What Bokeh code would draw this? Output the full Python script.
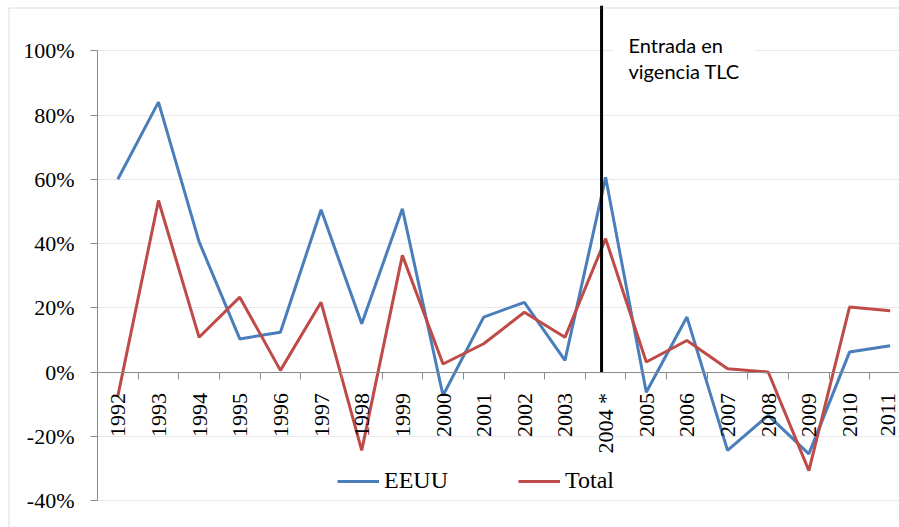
import math
from bokeh.plotting import figure
from bokeh.models import (Range1d, FixedTicker, PrintfTickFormatter, LinearAxis,
                          Legend, LegendItem, Label, PolyAnnotation, BoxAnnotation)
from bokeh.embed import file_html
from bokeh.resources import INLINE

# ---- data ----
years = ["1992", "1993", "1994", "1995", "1996", "1997", "1998", "1999", "2000",
         "2001", "2002", "2003", "2004 *", "2005", "2006", "2007", "2008", "2009",
         "2010", "2011"]
eeuu = [60, 84, 40.5, 10.3, 12.4, 50.5, 15.0, 50.8, -7.3, 17.1, 21.7, 3.6, 60.6,
        -6.3, 17.1, -24.4, -13.5, -25.5, 6.2, 8.2]
total = [-7.5, 53.4, 10.8, 23.3, 0.5, 21.7, -24.4, 36.3, 2.5, 8.8, 18.6, 10.8, 41.5,
         3.1, 9.8, 1.0, 0.0, -30.7, 20.2, 19.1]
y_ticks = [-40, -20, 0, 20, 40, 60, 80, 100]
tlc_year = "2004 *"
tlc_text = "Entrada  en\nvigencia TLC"

# ---- positions ----
xc = [i + 0.5 for i in range(len(years))]
boundaries = list(range(len(years) + 1))

SERIF = "Liberation Serif"
BLUE = "#4a7ebb"
RED = "#be4b48"
AXIS = "#8a8a8a"
GRID = "#e8e8e8"

PX_X = 40.65            # pixels per category
PX_Y = 3.2125           # pixels per percentage point
FRAME_L = 7             # frame left edge (canvas px)
AXIS_X = 97             # plot-area left edge (canvas px)
AXIS_BOTTOM = 500       # plot-area bottom (canvas px)
FRAME_TOP = 5
H = 527
Y_START = -40 - (H - AXIS_BOTTOM) / PX_Y
Y_TOP = -40 + (AXIS_BOTTOM - FRAME_TOP) / PX_Y
X_START = -(AXIS_X - FRAME_L) / PX_X
X_END = (899 - AXIS_X) / PX_X
DY = H - AXIS_BOTTOM    # offset of plot-area bottom above frame bottom

p = figure(width=899, height=H, output_backend="svg", toolbar_location=None,
           x_range=Range1d(X_START, X_END), y_range=Range1d(Y_START, Y_TOP),
           min_border_left=FRAME_L, min_border_right=0, min_border_top=FRAME_TOP,
           min_border_bottom=0, x_axis_location=None, y_axis_location=None)
p.outline_line_color = None
p.background_fill_color = "white"
p.border_fill_color = "white"

# y axis at the plot-area edge
yax = LinearAxis(ticker=FixedTicker(ticks=y_ticks, minor_ticks=[]),
                 formatter=PrintfTickFormatter(format="%d%%"),
                 bounds=(-40, 100), fixed_location=0)
yax.axis_line_color = AXIS
yax.major_tick_line_color = AXIS
yax.major_tick_out = 7
yax.major_tick_in = 0
yax.minor_tick_out = 0
yax.major_label_standoff = 16
yax.major_label_text_font = SERIF
yax.major_label_text_font_size = "22px"
yax.major_label_text_color = "black"
p.add_layout(yax, "left")

# x axis, crossing at 0
xax = LinearAxis(ticker=FixedTicker(ticks=xc, minor_ticks=boundaries),
                 major_label_overrides={x: y for x, y in zip(xc, years)},
                 fixed_location=0, bounds=(0, X_END))
xax.axis_line_color = AXIS
xax.major_tick_out = 0
xax.major_tick_in = 0
xax.minor_tick_out = 7
xax.minor_tick_in = 0
xax.minor_tick_line_color = AXIS
xax.major_label_orientation = math.pi / 2
xax.major_label_standoff = 14
xax.major_label_text_font = SERIF
xax.major_label_text_font_size = "22px"
xax.major_label_text_color = "black"
p.add_layout(xax, "below")

p.ygrid.ticker = FixedTicker(ticks=y_ticks)
p.ygrid.grid_line_color = GRID
p.xgrid.visible = False

# hide gridlines left of the plot area
p.add_layout(BoxAnnotation(right=0, level="underlay", fill_color="white",
                           fill_alpha=1, line_color=None))

r1 = p.line(xc, eeuu, line_color=BLUE, line_width=3)
r2 = p.line(xc, total, line_color=RED, line_width=3)

# TLC vertical marker
xi = years.index(tlc_year) + 0.4
p.segment(x0=[xi], y0=[0], x1=[xi], y1=[Y_TOP], line_color="black", line_width=3)

lab = Label(x=613 - FRAME_L, y=483 + DY, x_units="screen", y_units="screen",
            text=tlc_text, text_font="Lato", text_font_size="20px",
            text_color="black", text_align="left", text_baseline="top",
            text_line_height=1.12, background_fill_color="white", padding=15)
p.add_layout(lab)

# chart-area border (only left and top edges fall inside the picture)
border = PolyAnnotation(xs=[1.5, 1.5, 1200, 1200],
                        ys=[-200, H - 7.5, H - 7.5, -200],
                        xs_units="screen", ys_units="screen",
                        fill_alpha=0, line_color="#8c8c8c", line_width=1)
p.add_layout(border)

legend = Legend(items=[LegendItem(label="EEUU", renderers=[r1]),
                       LegendItem(label="Total", renderers=[r2])],
                orientation="horizontal", location=(240 + AXIS_X - FRAME_L, 6 + DY))
legend.label_text_font = SERIF
legend.label_text_font_size = "24px"
legend.label_text_color = "black"
legend.glyph_width = 42
legend.glyph_height = 24
legend.label_height = 24
legend.label_standoff = 5
legend.spacing = 70
legend.padding = 0
legend.margin = 0
legend.border_line_color = None
legend.background_fill_alpha = 0
p.add_layout(legend, "center")

open("out.html", "w").write(file_html(p, INLINE))
